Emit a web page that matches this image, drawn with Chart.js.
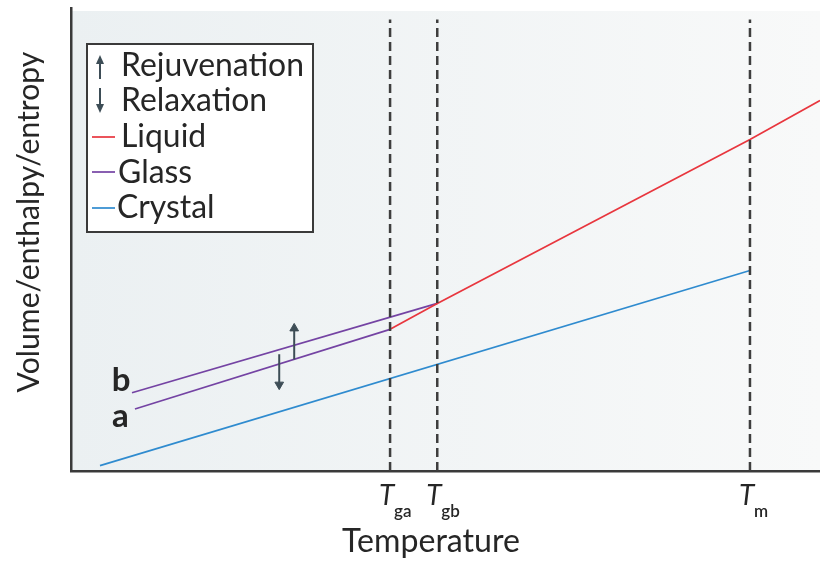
<!DOCTYPE html>
<html><head><meta charset="utf-8">
<script src="https://cdn.jsdelivr.net/npm/chart.js@4/dist/chart.umd.min.js"></script>
<style>html,body{margin:0;padding:0;background:#fff}#wrap{width:820px;height:565px}</style>
</head><body><div id="wrap"><canvas id="c" width="820" height="565"></canvas></div>
<script>
// ---- data ----
const xRange = [0, 100];
const yRange = [0, 100];
const tickTemps = [42.6, 48.9, 90.65];
const tickMain = ['T', 'T', 'T'];
const tickSub = ['ga', 'gb', 'm'];
const liquidX = [42.6, 48.9, 90.65, 100];
const liquidY = [30.6, 36.2, 71.6, 80.0];
const glassAX = [8.54, 42.6];
const glassAY = [13.4, 30.6];
const glassBX = [8.14, 48.9];
const glassBY = [16.9, 36.2];
const crystalX = [3.87, 90.65];
const crystalY = [1.15, 43.3];
const dashY = [0, 97.5];
const rejuvX = [29.8, 29.8];
const rejuvY = [24.1, 30.8];
const relaxX = [27.8, 27.8];
const relaxY = [25.2, 18.65];
const curveLabels = ['b', 'a'];
const curveLabelX = [5.43, 5.47];
const curveLabelY = [17.2, 9.6];
const legendLabels = ['Rejuvenation', 'Relaxation', 'Liquid', 'Glass', 'Crystal'];
const xTitle = 'Temperature';
const yTitle = 'Volume/enthalpy/entropy';

// ---- styles ----
const FAMILY = 'Lato, "Open Sans", sans-serif';
const TEXT = '#262626';
const RED = '#e8363e', PURPLE = '#7443a3', BLUE = '#2f8bcf', DASH = '#3e3e3e', ARROW = '#3d4d56';

const pts = (xs, ys) => xs.map((x, i) => ({x, y: ys[i]}));

function fitSize(ctx, text, target, weight, style) {
  ctx.font = `${style || ''} ${weight} 100px ${FAMILY}`;
  return 100 * target / ctx.measureText(text).width;
}

const datasets = [];
tickTemps.forEach(t => datasets.push({
  data: pts([t, t], dashY), borderColor: DASH, borderWidth: 2.5, borderDash: [9, 5],
  pointRadius: 0, order: 0
}));
datasets.push({data: pts(rejuvX, rejuvY), borderColor: ARROW, backgroundColor: ARROW, borderWidth: 2,
  pointStyle: 'triangle', pointRadius: [0, 5], pointRotation: 0, pointBorderWidth: 1, order: 1});
datasets.push({data: pts(relaxX, relaxY), borderColor: ARROW, backgroundColor: ARROW, borderWidth: 2,
  pointStyle: 'triangle', pointRadius: [0, 5], pointRotation: 180, pointBorderWidth: 1, order: 1});
datasets.push({label: 'Liquid', data: pts(liquidX, liquidY), borderColor: RED, borderWidth: 1.7, pointRadius: 0, order: 2});
datasets.push({label: 'Glass a', data: pts(glassAX, glassAY), borderColor: PURPLE, borderWidth: 1.7, pointRadius: 0, order: 2});
datasets.push({label: 'Glass b', data: pts(glassBX, glassBY), borderColor: PURPLE, borderWidth: 1.7, pointRadius: 0, order: 2});
datasets.push({label: 'Crystal', data: pts(crystalX, crystalY), borderColor: BLUE, borderWidth: 1.7, pointRadius: 0, order: 2});

const decor = {
  id: 'decor',
  beforeDraw(chart) {
    const {ctx, chartArea: a} = chart;
    const g = ctx.createLinearGradient(a.left, 0, a.right, 0);
    g.addColorStop(0, '#ebf0f2');
    g.addColorStop(1, '#f8f9f9');
    ctx.save();
    ctx.fillStyle = g;
    ctx.fillRect(a.left, a.top + 3, a.right - a.left, a.bottom - a.top - 3);
    ctx.restore();
  },
  afterDraw(chart) {
    const {ctx} = chart;
    const xs = chart.scales.x, ys = chart.scales.y;
    ctx.save();
    ctx.fillStyle = TEXT;
    ctx.textBaseline = 'alphabetic';
    // tick labels
    tickTemps.forEach((t, i) => {
      const px = xs.getPixelForValue(t);
      ctx.textAlign = 'left';
      ctx.font = `italic 400 28px ${FAMILY}`;
      ctx.fillText(tickMain[i], px - 11, 505);
      ctx.font = `600 17px ${FAMILY}`;
      ctx.fillText(tickSub[i], px + 4, 517);
    });
    // axis titles
    ctx.textAlign = 'center';
    let s = fitSize(ctx, xTitle, 178, 400);
    ctx.font = `400 ${s}px ${FAMILY}`;
    ctx.fillText(xTitle, 431, 552);
    s = fitSize(ctx, yTitle, 341, 400);
    ctx.save();
    ctx.translate(39, 222);
    ctx.rotate(-Math.PI / 2);
    ctx.font = `400 ${s}px ${FAMILY}`;
    ctx.fillText(yTitle, 0, 0);
    ctx.restore();
    // curve labels
    ctx.textAlign = 'left';
    ctx.font = `700 33px ${FAMILY}`;
    curveLabels.forEach((l, i) => {
      ctx.fillText(l, xs.getPixelForValue(curveLabelX[i]), ys.getPixelForValue(curveLabelY[i]));
    });
    // legend box
    ctx.fillStyle = '#ffffff';
    ctx.fillRect(87, 44, 226, 188);
    ctx.strokeStyle = '#3a3a3a';
    ctx.lineWidth = 2;
    ctx.strokeRect(87, 44, 226, 188);
    const ls = fitSize(ctx, legendLabels[0], 183, 400);
    ctx.font = `400 ${ls}px ${FAMILY}`;
    ctx.fillStyle = TEXT;
    const base = [76, 111, 147, 183, 218];
    const textX = [121, 121, 121, 118, 117];
    legendLabels.forEach((l, i) => ctx.fillText(l, textX[i], base[i]));
    // arrow symbols
    ctx.strokeStyle = ARROW; ctx.fillStyle = ARROW; ctx.lineWidth = 2;
    ctx.beginPath(); ctx.moveTo(100, 79); ctx.lineTo(100, 63); ctx.stroke();
    ctx.beginPath(); ctx.moveTo(100, 55); ctx.lineTo(96, 64); ctx.lineTo(104, 64); ctx.closePath(); ctx.fill();
    ctx.beginPath(); ctx.moveTo(100, 88); ctx.lineTo(100, 104); ctx.stroke();
    ctx.beginPath(); ctx.moveTo(100, 113); ctx.lineTo(96, 104); ctx.lineTo(104, 104); ctx.closePath(); ctx.fill();
    // line samples
    const sy = [137, 172, 208], sc = [RED, PURPLE, BLUE];
    sc.forEach((c, i) => {
      ctx.strokeStyle = c; ctx.lineWidth = 1.7;
      ctx.beginPath(); ctx.moveTo(92, sy[i]); ctx.lineTo(115, sy[i]); ctx.stroke();
    });
    ctx.restore();
  }
};

new Chart(document.getElementById('c'), {
  type: 'line',
  data: {datasets},
  options: {
    responsive: false, animation: false,
    layout: {autoPadding: false, padding: {top: 8, right: 0, left: 0, bottom: 0}},
    plugins: {legend: {display: false}, tooltip: {enabled: false}},
    elements: {line: {tension: 0}},
    scales: {
      x: {type: 'linear', min: xRange[0], max: xRange[1],
        grid: {display: false, drawTicks: false},
        border: {display: true, color: '#3a3a3a', width: 2.5},
        ticks: {display: false},
        afterFit(sc) { sc.height = 94; sc.paddingLeft = 0; sc.paddingRight = 0; }},
      y: {type: 'linear', min: yRange[0], max: yRange[1],
        grid: {display: false, drawTicks: false},
        border: {display: true, color: '#3a3a3a', width: 2.5},
        ticks: {display: false},
        afterFit(sc) { sc.width = 71; sc.paddingTop = 0; sc.paddingBottom = 0; }}
    }
  },
  plugins: [decor]
});
</script></body></html>
